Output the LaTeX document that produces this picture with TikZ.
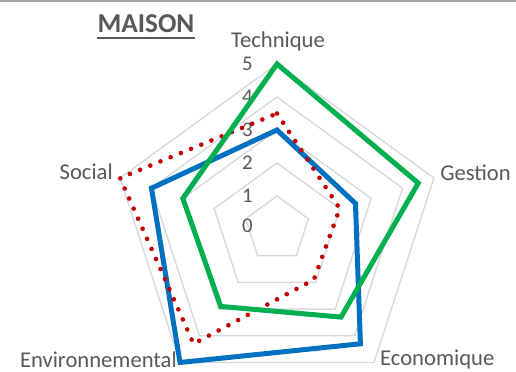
\documentclass[tikz,border=0pt]{standalone}
\usepackage{fontspec}
\setmainfont{Carlito}
\definecolor{textgray}{HTML}{595959}
\definecolor{gridgray}{HTML}{D9D9D9}
\definecolor{framegray}{HTML}{A6A6A6}
\definecolor{maisonblue}{HTML}{0070C0}
\definecolor{maisongreen}{HTML}{00B050}
\definecolor{maisonred}{HTML}{C00000}
\begin{document}
\begin{tikzpicture}[
  ring/.style={draw=gridgray, line width=1.2pt},
  axislabel/.style={font=\fontsize{19.5}{22}\selectfont, text=textgray, inner sep=0pt},
  ticklabel/.style={font=\fontsize{18}{20}\selectfont, text=textgray, inner sep=0pt, anchor=east},
  bluepoly/.style={draw=maisonblue, line width=4.3pt, line join=miter},
  greenpoly/.style={draw=maisongreen, line width=4.3pt, line join=miter},
  redpoly/.style={draw=maisonred, line width=4pt, line cap=round, dash pattern=on 0pt off 9.5pt}
]
% Fix the page size (center of the chart at the origin, 1 unit per level)
\useasboundingbox (-8.394,-4.333) rectangle (7.242,6.939);
\draw[framegray, line width=1.5pt] (-8.394,6.9) -- (7.242,6.9);

% Grid pentagons, levels 1 to 5
\draw[ring] (90:1) -- (18:1) -- (-54:1) -- (234:1) -- (162:1) -- cycle;
\draw[ring] (90:2) -- (18:2) -- (-54:2) -- (234:2) -- (162:2) -- cycle;
\draw[ring] (90:3) -- (18:3) -- (-54:3) -- (234:3) -- (162:3) -- cycle;
\draw[ring] (90:4) -- (18:4) -- (-54:4) -- (234:4) -- (162:4) -- cycle;
\draw[ring] (90:5) -- (18:5) -- (-54:5) -- (234:5) -- (162:5) -- cycle;

% Scale numbers
\node[ticklabel] (tick0) at (-0.73, 0.1) {0};
\node[ticklabel] (tick1) at (-0.73, 1.0) {1};
\node[ticklabel] (tick2) at (-0.73, 2.0) {2};
\node[ticklabel] (tick3) at (-0.73, 3.0) {3};
\node[ticklabel] (tick4) at (-0.73, 4.0) {4};
\node[ticklabel] (tick5) at (-0.73, 5.0) {5};

% The three series
\draw[bluepoly] (90:3) -- (18:2.5) -- (-54:4.3) -- (234:5) -- (162:4) -- cycle;
\draw[redpoly] (90:3.5) -- (18:2) -- (-54:1.9) -- (234:4.3) -- (162:5) -- cycle;
\draw[greenpoly] (90:5) -- (18:4.5) -- (-54:3.3) -- (234:2.9) -- (162:3) -- cycle;

% Axis names
\node[axislabel] (technique) at (0.03, 5.67) {Technique};
\node[axislabel, anchor=west] (gestion) at (4.94, 1.70) {Gestion};
\node[axislabel, anchor=west] (economique) at (3.12, -3.96) {Economique};
\node[axislabel, anchor=east] (environnemental) at (-3.03, -3.96) {Environnemental};
\node[axislabel, anchor=east] (social) at (-4.97, 1.73) {Social};

% Title
\node[font=\fontsize{23.5}{26}\selectfont\bfseries, text=textgray, inner sep=0pt] (maison) at (-3.97, 6.21) {MAISON};
\draw[textgray, line width=1.7pt] ([yshift=-4pt]maison.south west) -- ([yshift=-4pt]maison.south east);
\end{tikzpicture}
\end{document}
